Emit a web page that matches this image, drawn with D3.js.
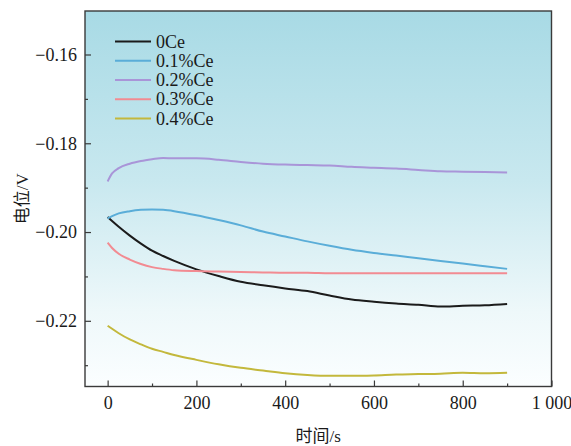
<!DOCTYPE html>
<html>
<head>
<meta charset="utf-8">
<script src="https://cdn.jsdelivr.net/npm/d3@7"></script>
<style>
  html, body { margin: 0; padding: 0; background: #ffffff; }
  svg { display: block; }
</style>
</head>
<body>
<svg id="chart" width="571" height="446"></svg>
<script>
// Open-circuit potential vs. time for alloys with different Ce additions
const timeS = [0, 10, 25, 50, 75, 100, 125, 150, 200, 250, 300, 350, 400, 450, 500, 550, 600, 650, 700, 750, 800, 850, 900];

const seriesNames = ["0Ce", "0.1%Ce", "0.2%Ce", "0.3%Ce", "0.4%Ce"];
const seriesColors = ["#1b1b1b", "#5aadd8", "#a995d8", "#f28b92", "#c3b83c"];

const ce0 = [-0.1966, -0.1975, -0.1988, -0.2008, -0.2026, -0.2042, -0.2054, -0.2065, -0.2084, -0.2099, -0.2112, -0.2120, -0.2127, -0.2133, -0.2143, -0.2152, -0.2157, -0.2161, -0.2164, -0.2168, -0.2166, -0.2165, -0.2162];
const ce01 = [-0.1969, -0.1964, -0.1958, -0.1953, -0.1950, -0.1949, -0.1950, -0.1953, -0.1962, -0.1973, -0.1985, -0.1999, -0.2010, -0.2021, -0.2031, -0.2040, -0.2047, -0.2053, -0.2059, -0.2065, -0.2071, -0.2077, -0.2083];
const ce02 = [-0.1886, -0.1868, -0.1856, -0.1846, -0.1840, -0.1836, -0.1833, -0.1834, -0.1834, -0.1837, -0.1842, -0.1846, -0.1848, -0.1849, -0.1850, -0.1853, -0.1855, -0.1857, -0.1860, -0.1863, -0.1864, -0.1865, -0.1866];
const ce03 = [-0.2024, -0.2036, -0.2049, -0.2062, -0.2072, -0.2079, -0.2083, -0.2086, -0.2088, -0.2089, -0.2090, -0.2091, -0.2092, -0.2092, -0.2093, -0.2093, -0.2093, -0.2093, -0.2093, -0.2093, -0.2093, -0.2093, -0.2093];
const ce04 = [-0.2211, -0.2218, -0.2228, -0.2242, -0.2253, -0.2263, -0.2270, -0.2277, -0.2288, -0.2298, -0.2306, -0.2312, -0.2318, -0.2322, -0.2324, -0.2324, -0.2323, -0.2321, -0.2320, -0.2319, -0.2317, -0.2318, -0.2317];
const seriesValues = [ce0, ce01, ce02, ce03, ce04];

const xTicks = [0, 200, 400, 600, 800, 1000];
const xTickLabels = ["0", "200", "400", "600", "800", "1 000"];
const xMinor = [100, 300, 500, 700, 900];
const yTicks = [-0.16, -0.18, -0.20, -0.22];
const yTickLabels = ["\u22120.16", "\u22120.18", "\u22120.20", "\u22120.22"];
const yMinor = [-0.17, -0.19, -0.21, -0.23];

const xTitle = "时间/s";
const yTitle = "电位/V";

const svg = d3.select("#chart");
const L = 85, R = 551.5, T = 11, B = 386.5;

const x = d3.scaleLinear().domain([-51, 1000]).range([L, R]);
const y = d3.scaleLinear().domain([-0.2348, -0.1502]).range([B, T]);

// plot background gradient
const defs = svg.append("defs");
const grad = defs.append("linearGradient").attr("id", "bg")
  .attr("x1", 0).attr("y1", 0).attr("x2", 0).attr("y2", 1);
[[0, "#a8dae5"], [0.45, "#c8e8ef"], [0.8, "#eef8fa"], [1, "#fbfeff"]].forEach(([o, c]) =>
  grad.append("stop").attr("offset", o).attr("stop-color", c));

svg.append("rect").attr("x", L).attr("y", T).attr("width", R - L).attr("height", B - T)
  .attr("fill", "url(#bg)");

const serif = "'Liberation Serif', 'Times New Roman', serif";

// series lines
const line = d3.line()
  .x((d, i) => x(timeS[i]))
  .y(d => y(d))
  .curve(d3.curveMonotoneX);

const clip = defs.append("clipPath").attr("id", "clip");
clip.append("rect").attr("x", L).attr("y", T).attr("width", R - L).attr("height", B - T);

const lines = svg.append("g").attr("clip-path", "url(#clip)");
seriesValues.forEach((vals, k) => {
  lines.append("path").datum(vals)
    .attr("d", line)
    .attr("fill", "none")
    .attr("stroke", seriesColors[k])
    .attr("stroke-width", 2)
    .attr("stroke-linejoin", "round");
});

// axes with inward ticks
const axisColor = "#3a3a3a";
const xAxis = svg.append("g").attr("transform", `translate(0,${B})`)
  .call(d3.axisBottom(x).tickValues(xTicks).tickSize(-6).tickPadding(10)
    .tickFormat((d, i) => xTickLabels[i]));
svg.append("g").attr("transform", `translate(0,${B})`)
  .call(d3.axisBottom(x).tickValues(xMinor).tickSize(-3).tickFormat(""))
  .call(g => g.select(".domain").remove());

const yAxis = svg.append("g").attr("transform", `translate(${L},0)`)
  .call(d3.axisLeft(y).tickValues(yTicks).tickSize(-6).tickPadding(8)
    .tickFormat((d, i) => yTickLabels[i]));
svg.append("g").attr("transform", `translate(${L},0)`)
  .call(d3.axisLeft(y).tickValues(yMinor).tickSize(-3).tickFormat(""))
  .call(g => g.select(".domain").remove());

svg.selectAll(".domain").remove();
svg.selectAll(".tick line").attr("stroke", axisColor).attr("stroke-width", 1.2);
svg.selectAll(".tick text").attr("font-family", serif).attr("font-size", 18).attr("fill", "#1a1a1a");

// frame
svg.append("rect").attr("x", L).attr("y", T).attr("width", R - L).attr("height", B - T)
  .attr("fill", "none").attr("stroke", axisColor).attr("stroke-width", 1.4);

// axis titles
svg.append("text").attr("x", (L + R) / 2 + 0).attr("y", 442)
  .attr("text-anchor", "middle")
  .attr("font-family", "'Liberation Serif', 'Noto Sans CJK SC', serif")
  .attr("font-size", 17).attr("fill", "#1a1a1a").text(xTitle);

svg.append("text")
  .attr("transform", `translate(28,${(T + B) / 2}) rotate(-90)`)
  .attr("text-anchor", "middle")
  .attr("font-family", "'Liberation Serif', 'Noto Sans CJK SC', serif")
  .attr("font-size", 17).attr("fill", "#1a1a1a").text(yTitle);

// legend
const leg = svg.append("g").attr("transform", "translate(115,41.5)");
seriesNames.forEach((name, k) => {
  const g = leg.append("g").attr("transform", `translate(0,${k * 19.25})`);
  g.append("line").attr("x1", 0).attr("x2", 36).attr("y1", 0).attr("y2", 0)
    .attr("stroke", seriesColors[k]).attr("stroke-width", 2.2);
  g.append("text").attr("x", 41).attr("y", 6)
    .attr("font-family", serif).attr("font-size", 18).attr("fill", "#1a1a1a").text(name);
});
</script>
</body>
</html>
